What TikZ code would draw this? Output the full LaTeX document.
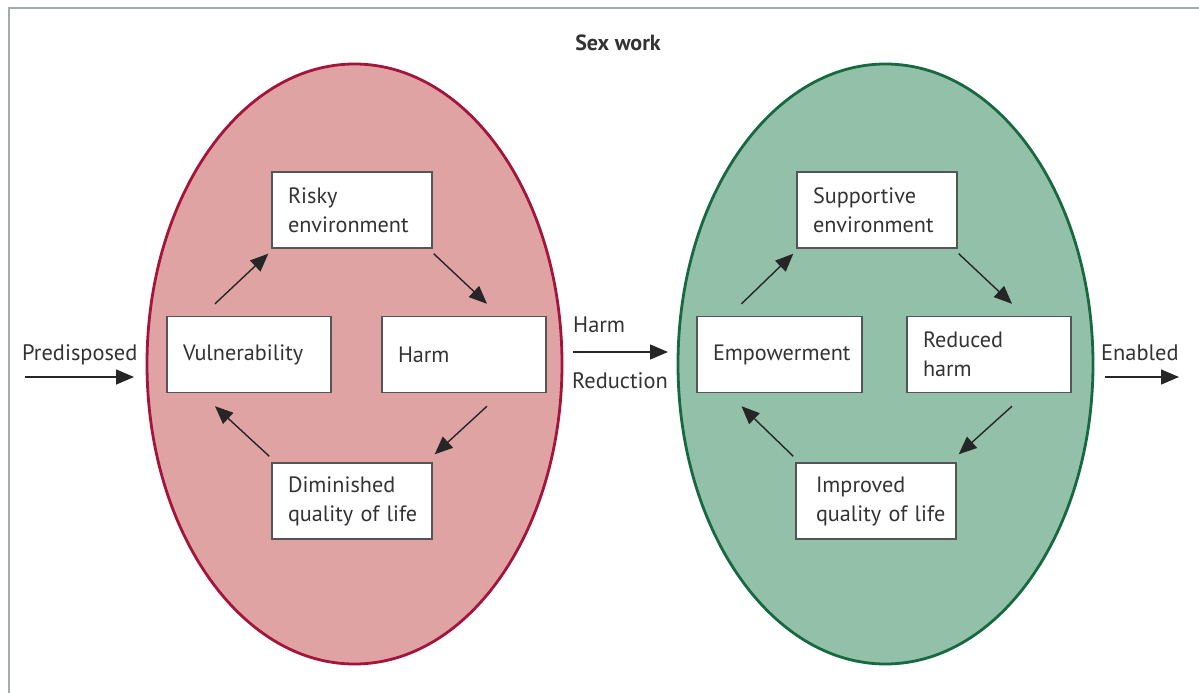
\documentclass[tikz,border=0pt]{standalone}
\usepackage{fontspec}
\setmainfont{PT Sans}
\usetikzlibrary{arrows.meta}
\definecolor{txt}{HTML}{333333}
\definecolor{frame}{HTML}{A3ABAB}
\definecolor{redfill}{HTML}{E0A3A3}
\definecolor{redline}{HTML}{A3153A}
\definecolor{greenfill}{HTML}{93C0A8}
\definecolor{greenline}{HTML}{17693F}
\definecolor{boxline}{HTML}{555555}
\tikzset{
  box/.style={draw=boxline, line width=1.4pt, fill=white, align=left,
    inner xsep=16pt, inner ysep=0pt, minimum height=76pt,
    text width=#1, font=\fontsize{22.2}{29}\selectfont, text=txt},
  lbl/.style={font=\fontsize{22.4}{29}\selectfont, text=txt, inner sep=0pt},
  arr/.style={draw=black!85, line width=1.4pt, -{Triangle[length=18pt,width=15pt]}},
  blob/.style={line width=2.8pt}
}
\begin{document}
\begin{tikzpicture}[x=1pt,y=-1pt]
\useasboundingbox (0,0) rectangle (1199,693);
\fill[white] (0,0) rectangle (1199,693);
\draw[frame, line width=2pt] (8.5,693) -- (8.5,8.5) -- (1199,8.5);

\node[font=\bfseries\fontsize{22}{26}\selectfont, text=txt, inner sep=0pt] (title) at (618,43) {Sex work};

% ellipses
\draw[blob, draw=redline, fill=redfill] (354.5,364) ellipse [x radius=207.5, y radius=300];
\draw[blob, draw=greenline, fill=greenfill] (885.5,364) ellipse [x radius=207.5, y radius=300];

% red boxes
\node[box=128pt] (risky) at (352,210) {Risky\\environment};
\node[box=132pt] (vul) at (249,354.5) {Vulnerability};
\node[box=132pt] (harm) at (464,354.5) {Harm};
\node[box=128pt] (dim) at (352,501) {Diminished\\\mbox{quality of life}};

% green boxes
\node[box=128pt] (supp) at (877,210) {Supportive\\environment};
\node[box=133pt] (emp) at (779.5,354.5) {Empowerment};
\node[box=132pt] (redh) at (989,354.5) {Reduced\\harm};
\node[box=128pt] (imp) at (876,501) {\hspace*{4pt}Improved\\\hspace*{4pt}\mbox{quality of life}};

% red cycle arrows
\draw[arr] ([xshift=-34pt,yshift=12pt]vul.north) -- ([xshift=-3pt,yshift=-5pt]risky.south west);
\draw[arr] ([xshift=1pt,yshift=-5pt]risky.south east) -- ([xshift=23pt,yshift=12pt]harm.north);
\draw[arr] ([xshift=23pt,yshift=-13pt]harm.south) -- ([xshift=2pt,yshift=8pt]dim.north east);
\draw[arr] ([xshift=-2pt,yshift=6pt]dim.north west) -- ([xshift=-34pt,yshift=-13pt]vul.south);

% green cycle arrows
\draw[arr] ([xshift=-38pt,yshift=12pt]emp.north) -- ([xshift=-3pt,yshift=-5pt]supp.south west);
\draw[arr] ([xshift=1pt,yshift=-5pt]supp.south east) -- ([xshift=23pt,yshift=12pt]redh.north);
\draw[arr] ([xshift=23pt,yshift=-13pt]redh.south) -- ([xshift=2pt,yshift=8pt]imp.north east);
\draw[arr] ([xshift=-2pt,yshift=6pt]imp.north west) -- ([xshift=-38pt,yshift=-13pt]emp.south);

% outer labels and arrows
\node[lbl, anchor=base west] (pred) at (22,360) {Predisposed};
\coordinate (p1) at (25,377);
\coordinate (p2) at (134,377);
\draw[arr] (p1) -- (p2);

\node[lbl, anchor=base west] (hr1) at (573,332) {Harm};
\node[lbl, anchor=base west] (hr2) at (572,388) {Reduction};
\coordinate (h1) at (573,352);
\coordinate (h2) at (668,352);
\draw[arr] (h1) -- (h2);

\node[lbl, anchor=base west] (en) at (1101,360) {Enabled};
\coordinate (e1) at (1105,377);
\coordinate (e2) at (1179,377);
\draw[arr] (e1) -- (e2);
\end{tikzpicture}
\end{document}
